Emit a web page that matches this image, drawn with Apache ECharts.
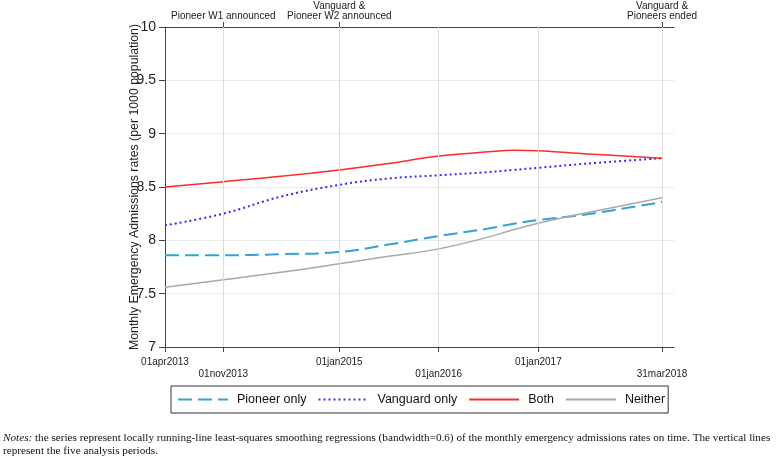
<!DOCTYPE html>
<html><head><meta charset="utf-8">
<script src="https://cdn.jsdelivr.net/npm/echarts@6/dist/echarts.min.js"></script>
<style>html,body{margin:0;padding:0;background:#fff}#c{width:778px;height:461px}</style>
</head><body><div id="c"></div>
<script>
const dates = ['2013-04-01','2013-11-01','2014-06-01','2015-01-01','2015-07-01','2016-01-01','2016-07-01','2016-10-01','2017-01-01','2017-07-01','2018-03-31'];
const pioneerOnly  = [7.86,7.86,7.87,7.89,7.96,8.04,8.11,8.155,8.19,8.245,8.36];
const vanguardOnly = [8.14,8.25,8.41,8.52,8.58,8.61,8.64,8.66,8.68,8.72,8.77];
const both         = [8.50,8.55,8.60,8.66,8.72,8.79,8.83,8.845,8.84,8.81,8.77];
const neither      = [7.56,7.63,7.70,7.78,7.85,7.92,8.03,8.10,8.16,8.26,8.40];

const xTickDates  = ['2013-04-01','2013-11-01','2015-01-01','2016-01-01','2017-01-01','2018-03-31'];
const xTickLabels = ['01apr2013','01nov2013','01jan2015','01jan2016','01jan2017','31mar2018'];
const periodLines = ['2013-11-01','2015-01-01','2016-01-01','2017-01-01','2018-03-31'];
const topTickDates  = ['2013-11-01','2015-01-01','2018-03-31'];
const topTickLabels = ['Pioneer W1 announced','Vanguard &\nPioneer W2 announced','Vanguard &\nPioneers ended'];
const yMin = 7, yMax = 10, yStep = 0.5;

// x expressed as days since 2013-04-01
const DAY = 86400000;
const ts = d => { const p = d.split('-').map(Number); return Date.UTC(p[0], p[1]-1, p[2]); };
const X0 = ts('2013-04-01');
const dx = d => Math.round((ts(d) - X0) / DAY);
const xMin = 0;
const xMax = dx('2018-05-14');
const pair = arr => dates.map((d,i) => [dx(d), arr[i]]);
const bottomMap = {}; xTickDates.forEach((d,i) => bottomMap[dx(d)] = i);
const topMap = {}; topTickDates.forEach((d,i) => topMap[dx(d)] = topTickLabels[i]);

const FONT = '"Liberation Sans", Arial, sans-serif';
const chart = echarts.init(document.getElementById('c'), null, {renderer:'canvas'});
chart.setOption({
  animation: false,
  backgroundColor: '#fff',
  grid: {left: 165, right: 104, top: 27, bottom: 114},
  legend: {
    left: 171, top: 386,
    itemWidth: 50, itemHeight: 12, itemGap: 11,
    padding: [7, 3, 7, 6],
    borderColor: '#333', borderWidth: 1,
    itemStyle: {opacity: 0},
    textStyle: {fontFamily: FONT, fontSize: 12.5, color: '#111', padding: [0,0,0,4]},
    data: ['Pioneer only','Vanguard only','Both','Neither']
  },
  xAxis: [{
    type: 'value', min: xMin, max: xMax, position: 'bottom',
    axisLine: {show: true, lineStyle: {color: '#444', width: 1}},
    axisTick: {show: true, length: 5, customValues: xTickDates.map(dx), lineStyle: {color: '#444'}},
    axisLabel: {
      customValues: xTickDates.map(dx), margin: 9, fontFamily: FONT, fontSize: 10, color: '#222', lineHeight: 12,
      formatter: v => { const i = bottomMap[v]; if (i === undefined) return ''; return (i % 2 === 1 ? '\n' : '') + xTickLabels[i]; }
    },
    splitLine: {show: false}
  }, {
    type: 'value', min: xMin, max: xMax, position: 'top',
    axisLine: {show: true, lineStyle: {color: '#444', width: 1}},
    axisTick: {show: true, length: 5, customValues: topTickDates.map(dx), lineStyle: {color: '#444'}},
    axisLabel: {
      customValues: topTickDates.map(dx), margin: 6, fontFamily: FONT, fontSize: 10, color: '#222', lineHeight: 10,
      formatter: v => topMap[v] || ''
    },
    splitLine: {show: false}
  }],
  yAxis: {
    type: 'value', min: yMin, max: yMax, interval: yStep,
    name: 'Monthly Emergency Admissions rates (per 1000 population)',
    nameLocation: 'middle', nameGap: 24, nameRotate: 90, nameMoveOverlap: false,
    nameTextStyle: {fontFamily: FONT, fontSize: 12.3, color: '#222'},
    axisLine: {show: true, lineStyle: {color: '#444', width: 1}},
    axisTick: {show: true, length: 6, lineStyle: {color: '#444'}},
    axisLabel: {fontFamily: FONT, fontSize: 14, color: '#222', margin: 9, formatter: v => String(v)},
    splitLine: {show: true, lineStyle: {color: '#e5edef', width: 1}}
  },
  series: [
    {name: 'Pioneer only', type: 'line', data: pair(pioneerOnly), smooth: 0.4, symbol: 'none',
     lineStyle: {color: '#35a2d4', width: 2, type: [14, 6]}, itemStyle: {color: '#35a2d4'},
     markLine: {silent: true, symbol: 'none', label: {show: false},
       lineStyle: {color: '#dcdcdc', width: 1, type: 'solid'},
       data: periodLines.map(d => ({xAxis: dx(d)}))}, z: 3},
    {name: 'Vanguard only', type: 'line', data: pair(vanguardOnly), smooth: 0.4, symbol: 'none',
     lineStyle: {color: '#2f2fff', width: 2, type: [2, 3]}, itemStyle: {color: '#2f2fff'}, z: 3},
    {name: 'Both', type: 'line', data: pair(both), smooth: 0.4, symbol: 'none',
     lineStyle: {color: '#ff2a2a', width: 1.5}, itemStyle: {color: '#ff2a2a'}, z: 3},
    {name: 'Neither', type: 'line', data: pair(neither), smooth: 0.4, symbol: 'none',
     lineStyle: {color: '#a8a8a8', width: 1.5}, itemStyle: {color: '#a8a8a8'}, z: 3}
  ],
  graphic: [
    {type: 'text', left: 3, top: 433, silent: true, style: {
      text: '{i|Notes:} the series represent locally running-line least-squares smoothing regressions (bandwidth=0.6) of the monthly emergency admissions rates on time. The vertical lines',
      font: '11.2px "Liberation Serif", "Times New Roman", serif', fill: '#111',
      rich: {i: {fontStyle: 'italic', fontFamily: '"Liberation Serif", serif', fontSize: 11.2, fill: '#111'}}
    }},
    {type: 'text', left: 3, top: 446, silent: true, style: {
      text: 'represent the five analysis periods.',
      font: '11.2px "Liberation Serif", "Times New Roman", serif', fill: '#111'
    }}
  ]
});
</script>
</body></html>
